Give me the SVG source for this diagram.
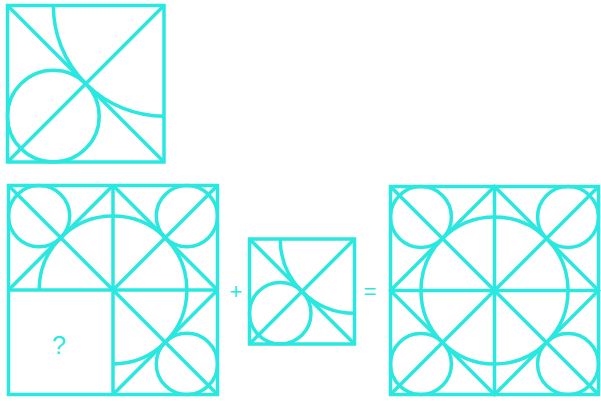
<svg xmlns="http://www.w3.org/2000/svg" width="601" height="401" viewBox="0 0 601 401">
  <style>
    .ln { fill: none; stroke: #2ae8e0; stroke-width: 3.5; stroke-linejoin: miter; }
    .tx { fill: #2ae8e0; font-family: "Liberation Sans", Arial, sans-serif; text-anchor: middle; }
  </style>
  <rect x="0" y="0" width="601" height="401" fill="#ffffff"/>

  <g id="example-tile">
    <rect class="ln" x="7.5" y="5.5" width="156.5" height="156.5"/>
    <line class="ln" x1="7.5" y1="5.5" x2="164" y2="162"/>
    <line class="ln" x1="164" y1="5.5" x2="7.5" y2="162"/>
    <circle class="ln" cx="53.34" cy="116.16" r="45.84"/>
    <path class="ln" d="M 53.34 5.5 A 110.66 110.66 0 0 0 164 116.16"/>
  </g>

  <g id="puzzle">
    <rect class="ln" x="8.5" y="185.5" width="209" height="209"/>
    <line class="ln" x1="113" y1="185.5" x2="113" y2="394.5"/>
    <line class="ln" x1="8.5" y1="290" x2="217.5" y2="290"/>
    <line class="ln" x1="8.5" y1="185.5" x2="217.5" y2="394.5"/>
    <line class="ln" x1="113" y1="185.5" x2="8.5" y2="290"/>
    <line class="ln" x1="113" y1="185.5" x2="217.5" y2="290"/>
    <line class="ln" x1="217.5" y1="185.5" x2="113" y2="290"/>
    <line class="ln" x1="217.5" y1="290" x2="113" y2="394.5"/>
    <circle class="ln" cx="39.11" cy="216.11" r="30.61"/>
    <circle class="ln" cx="186.89" cy="216.11" r="30.61"/>
    <circle class="ln" cx="186.89" cy="363.89" r="30.61"/>
    <path class="ln" d="M 39.1 290 A 73.9 73.9 0 1 1 113 363.9"/>
    <text class="tx" x="59" y="354" font-size="25">?</text>
  </g>

  <g id="operator-plus">
    <text class="tx" x="236" y="299" font-size="22">+</text>
  </g>

  <g id="piece">
    <rect class="ln" x="249.5" y="239" width="105" height="105"/>
    <line class="ln" x1="249.5" y1="239" x2="354.5" y2="344"/>
    <line class="ln" x1="354.5" y1="239" x2="249.5" y2="344"/>
    <circle class="ln" cx="280.25" cy="313.25" r="30.75"/>
    <path class="ln" d="M 280.25 239 A 74.25 74.25 0 0 0 354.5 313.25"/>
  </g>

  <g id="operator-equals">
    <text class="tx" x="370" y="299" font-size="22">=</text>
  </g>

  <g id="result">
    <rect class="ln" x="390.5" y="186.5" width="208" height="208"/>
    <line class="ln" x1="494.5" y1="186.5" x2="494.5" y2="394.5"/>
    <line class="ln" x1="390.5" y1="290.5" x2="598.5" y2="290.5"/>
    <line class="ln" x1="390.5" y1="186.5" x2="598.5" y2="394.5"/>
    <line class="ln" x1="598.5" y1="186.5" x2="390.5" y2="394.5"/>
    <polygon class="ln" points="494.5,186.5 598.5,290.5 494.5,394.5 390.5,290.5"/>
    <circle class="ln" cx="420.96" cy="216.96" r="30.46"/>
    <circle class="ln" cx="568.04" cy="216.96" r="30.46"/>
    <circle class="ln" cx="420.96" cy="364.04" r="30.46"/>
    <circle class="ln" cx="568.04" cy="364.04" r="30.46"/>
    <circle class="ln" cx="494.5" cy="290.5" r="73.54"/>
  </g>
</svg>
